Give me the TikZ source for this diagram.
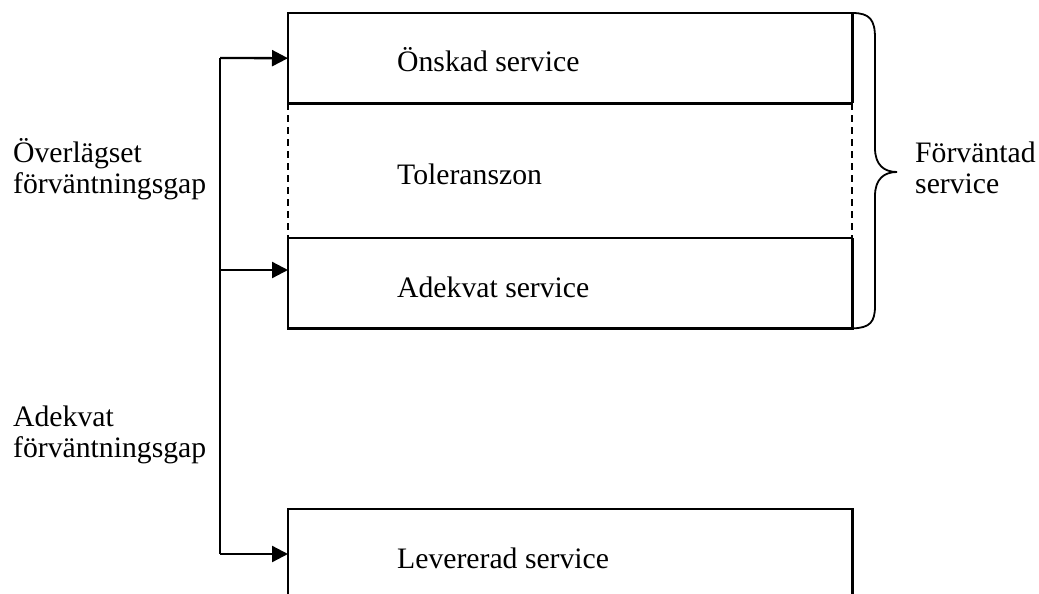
\documentclass[tikz,border=0pt]{standalone}
\usepackage{fontspec}
\setmainfont{Liberation Serif}
\usetikzlibrary{arrows.meta}
\begin{document}
\begin{tikzpicture}[x=1pt,y=-1pt,
  lbl/.style={inner sep=0pt,anchor=base west,align=left,font=\fontsize{29.7}{31}\selectfont},
  boxpart/.style={inner sep=0pt,minimum width=564pt,anchor=north west},
  solidline/.style={line width=2.3pt},
  dashline/.style={line width=2pt,dash pattern=on 7pt off 5pt},
  arr/.style={line width=2.3pt,-{Triangle[length=16pt,width=16pt]}},
  bracestyle/.style={line width=1.8pt}]
\useasboundingbox (0,0) rectangle (1039,594);
% boxes
\node[boxpart,minimum height=90pt] (onskad) at (288,13) {};
\node[boxpart,minimum height=135pt] (tol) at (288,103) {};
\node[boxpart,minimum height=90pt] (adekvat) at (288,238) {};
\node[boxpart,minimum height=85pt] (lev) at (288,509) {};
\draw[solidline] (onskad.south west) -- (onskad.north west) -- (onskad.north east) -- (onskad.south east);
\draw[solidline] (onskad.south west) -- (onskad.south east);
\draw[dashline] (tol.north west) -- (tol.south west);
\draw[dashline] (tol.north east) -- (tol.south east);
\draw[solidline] (adekvat.north west) -- (adekvat.north east);
\draw[solidline] (adekvat.north west) -- (adekvat.south west) -- (adekvat.south east) -- (adekvat.north east);
\draw[solidline] (lev.south west) -- (lev.north west) -- (lev.north east) -- (lev.south east);
% texts in boxes
\node[lbl] (t1) at (397,71) {Önskad service};
\node[lbl] (t2) at (397,184) {Toleranszon};
\node[lbl] (t3) at (397,297) {Adekvat service};
\node[lbl] (t4) at (397,568) {Levererad service};
% left connectors
\coordinate (jTop) at (220,58);
\coordinate (jMid) at (220,270);
\coordinate (jBot) at (220,554);
\draw[solidline] (jTop) -- (jBot);
\draw[arr] (jTop) -- (onskad.west);
\draw[arr] (jMid) -- (jMid -| adekvat.west);
\draw[arr] (jBot) -- (jBot -| lev.west);
% left labels (base anchor = last line)
\node[lbl] (l1) at (13,193) {Överlägset\\förväntningsgap};
\node[lbl] (l2) at (13,457) {Adekvat\\förväntningsgap};
% brace
\coordinate (bTip) at (897,172);
\draw[bracestyle] (onskad.north east) .. controls (870,13) and (875,20) .. (875,38)
  -- (875,148) .. controls (875,165) and (884,172) .. (bTip)
  .. controls (884,172) and (875,179) .. (875,196)
  -- (875,306) .. controls (875,322) and (870,328) .. (adekvat.south east);
\node[lbl] (r1) at (915,193) {Förväntad\\service};
\end{tikzpicture}
\end{document}
